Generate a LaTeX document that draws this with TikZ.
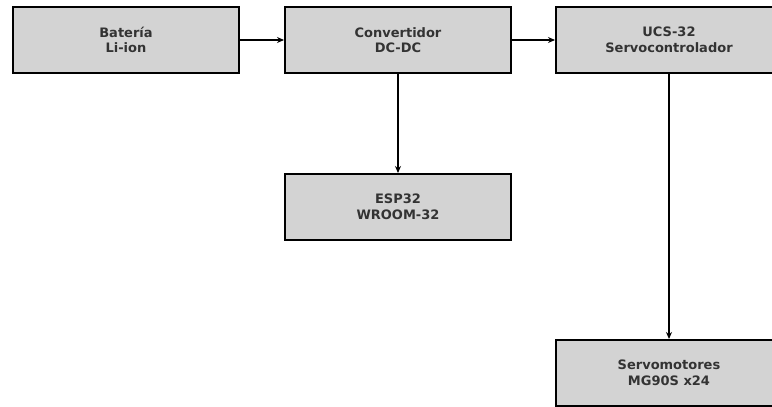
\documentclass[tikz,border=0pt]{standalone}
\usepackage{fontspec}
\setmainfont{DejaVu Sans}
\usepackage{xcolor}
\usetikzlibrary{arrows.meta, positioning}
\definecolor{blockFill}{HTML}{D3D3D3}
\definecolor{blockText}{HTML}{333333}

\begin{document}
\begin{tikzpicture}[
  x=1pt, y=-1pt,
  block/.style={draw=black, fill=blockFill, line width=1.5pt,
               minimum width=226pt, minimum height=66pt, align=center,
               text=blockText, font=\fontsize{13}{15.5}\selectfont\bfseries,
               inner sep=0pt, outer sep=0pt},
  arr/.style={-{Stealth[length=7pt,width=6pt]}, line width=1.4pt, color=black,
              shorten >=1pt, shorten <=0.75pt}
]
  \useasboundingbox (0,0) rectangle (772,407);
  \clip (0,0) rectangle (772,407);

  \node[block] (bat) at (126,40) {Batería\\Li-ion};
  \node[block, right=46pt of bat] (dcdc) {Convertidor\\DC-DC};
  \node[block, right=45pt of dcdc] (ucs) {UCS-32\\Servocontrolador};
  \node[block, below=101pt of dcdc] (esp) {ESP32\\WROOM-32};
  \node[block, below=267pt of ucs] (servo) {Servomotores\\MG90S x24};

  \draw[arr] (bat) -- (dcdc);
  \draw[arr] (dcdc) -- (ucs);
  \draw[arr] (dcdc) -- (esp);
  \draw[arr] (ucs) -- (servo);
\end{tikzpicture}
\end{document}
